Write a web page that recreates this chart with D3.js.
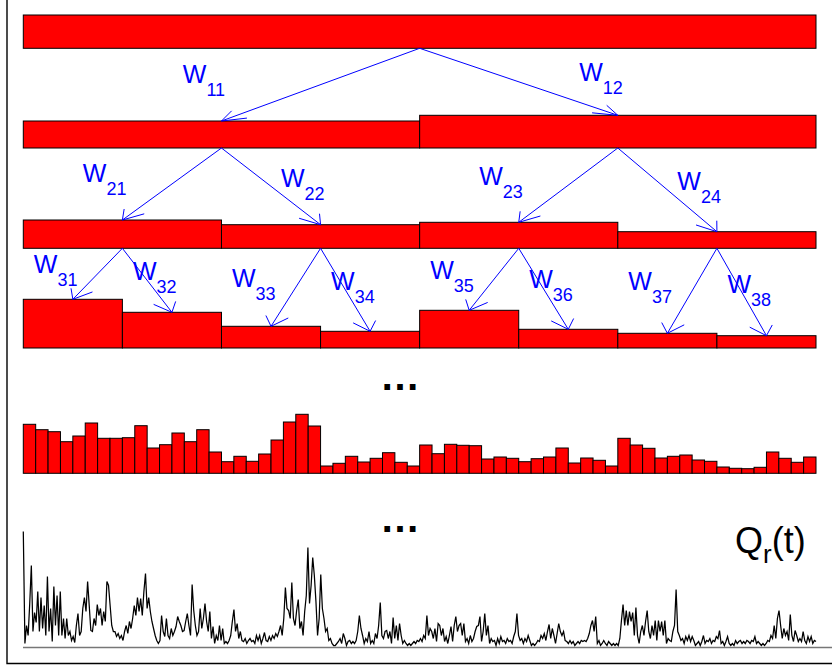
<!DOCTYPE html>
<html>
<head>
<meta charset="utf-8">
<script src="https://cdn.jsdelivr.net/npm/d3@7/dist/d3.min.js"></script>
<style>
  html, body { margin: 0; padding: 0; background: #fff; }
  svg { display: block; }
</style>
</head>
<body>
<svg id="chart" width="832" height="666"></svg>
<script>
// ---------------- DATA ----------------
// Cascade levels: mass density of each dyadic interval (heights, arbitrary units)
const level0 = [33.3];
const level1 = [27, 32.7];
const level2 = [28.3, 23.6, 26, 16.6];
const level3 = [48.7, 35.7, 21.7, 16.7, 37.7, 18.7, 14.7, 12.3];
const level6 = [49, 43.6, 41.6, 31.6, 37.3, 50.3, 35, 35, 35.6, 47.6,
                25.3, 28.6, 40.3, 31.6, 43.6, 21.3, 11.6, 17, 12, 19.3,
                33.3, 51.3, 59, 47.3, 7.3, 10, 17, 11.3, 15, 20.6,
                11, 7.3, 28.3, 19.6, 29, 28, 27.6, 14.3, 16.3, 15,
                11.6, 14.6, 16.3, 25.3, 10.3, 15.3, 13, 7.3, 35, 28.3,
                25, 15.3, 17, 18.3, 13.3, 12, 6.3, 5, 4.6, 6,
                21.3, 15, 11, 16.3];
// Weight labels (subscripts) for each split level
const weights1 = ["11", "12"];
const weights2 = ["21", "22", "23", "24"];
const weights3 = ["31", "32", "33", "34", "35", "36", "37", "38"];
// Final signal Q_r(t), in four consecutive pieces
const sigA = [116, 4, 22, 12, 44, 82, 16, 35, 25, 56, 16, 50, 19, 42, 12, 71, 16, 39, 6, 61, 22,
  52, 12, 56, 12, 29, 9, 29, 12, 16, 7, 11, 5, 22, 34, 12, 16, 39, 50, 36, 66,
  42, 17, 16, 29, 22, 43, 32, 39, 22, 36, 26, 66, 62, 42, 22, 16, 16, 11, 14, 9,
  12, 7, 16, 22, 14, 26, 19, 29, 42, 32, 50, 36, 49, 32, 56, 74, 39, 50, 36, 26,
  19, 12, 7, 4, 7, 32, 16, 11, 29, 12, 9, 19, 12, 16, 21, 31, 26, 22, 16, 17,
  26, 34, 22, 12, 63, 37, 22, 12, 16, 39, 19, 29, 44, 26, 16, 36, 9, 21, 4, 12,
  7, 22, 7, 19, 4];
const sigB = [6, 4, 7, 12, 26, 38, 16, 24, 9, 16, 7, 6, 9, 4, 7, 9, 6, 7, 4, 12,
  7, 12, 4, 9, 15, 7, 6, 11, 7, 12, 9, 14, 11, 16, 22, 12, 29, 60, 39, 37,
  29, 65, 29, 22, 37, 48, 19, 26, 12, 36, 52, 100, 44, 62, 90, 72, 46, 12, 29, 73,
  39, 29, 16, 19, 7, 9, 4, 2, 2, 4, 6, 9, 4, 14, 9, 2, 6, 7, 4, 6,
  4, 7, 16, 32, 19, 12, 4, 9, 6, 16, 4, 7, 4, 14, 9, 22, 45, 12, 9, 16,
  17, 9, 16, 4, 30, 9, 22, 7, 24, 12, 4, 7, 4, 2, 4, 2, 4, 6, 4, 7,
  6, 9, 6, 12, 9, 32, 12, 19];
const sigC = [16, 9, 19, 6, 24, 22, 12, 19, 6, 11, 4, 12, 21, 6, 22, 31, 16, 22, 24, 12,
  24, 6, 9, 4, 12, 6, 9, 16, 21, 22, 31, 6, 16, 34, 12, 22, 4, 9, 6, 7,
  2, 9, 4, 11, 6, 7, 4, 9, 6, 7, 4, 11, 16, 34, 12, 7, 9, 4, 9, 6,
  12, 7, 2, 4, 2, 4, 7, 6, 12, 9, 14, 7, 16, 23, 9, 19, 12, 4, 14, 24,
  16, 12, 16, 7, 6, 4, 7, 4, 6, 2, 4, 6, 4, 7, 6, 7, 6, 9, 14, 22,
  27, 16, 31, 4, 7, 2, 4, 7, 4, 2, 6, 4, 2, 4, 2, 4, 2, 9, 27, 43,
  22, 37];
const sigD = [22, 36, 26, 35, 12, 40, 12, 4, 16, 22, 12, 26, 37, 16, 9, 22, 12, 27, 7, 27,
  16, 26, 12, 27, 4, 9, 7, 6, 16, 22, 58, 16, 12, 7, 9, 4, 11, 7, 12, 6,
  11, 7, 2, 4, 6, 2, 6, 12, 4, 7, 6, 9, 4, 7, 6, 11, 9, 17, 4, 6,
  2, 6, 11, 4, 2, 4, 2, 7, 4, 6, 7, 4, 6, 4, 7, 6, 4, 7, 6, 11,
  4, 6, 4, 2, 4, 2, 4, 7, 6, 12, 9, 22, 9, 29, 37, 22, 9, 19, 12, 16,
  7, 33, 12, 6, 17, 12, 6, 9, 6, 16, 7, 4, 11, 6, 11, 4, 7, 6];
const signal = sigA.concat(sigB, sigC, sigD);

// ---------------- LAYOUT ----------------
const svg = d3.select("#chart");
const RED = "#ff0000", BLUE = "#0000ff";
const FONT = "'Liberation Sans', Arial, Helvetica, sans-serif";

const x = d3.scaleLinear().domain([0, 1]).range([23.3, 816]);
const h = d3.scaleLinear().domain([0, 100]).range([0, 100]);   // bar height scale (px per unit)

const levels = [
  { values: level0, base: 48.3 },
  { values: level1, base: 148 },
  { values: level2, base: 248.3 },
  { values: level3, base: 348 },
  { values: level6, base: 473.3 }
];

// frame (left + bottom edges visible)
svg.append("path")
  .attr("d", "M7,-2 V663.5 H834")
  .attr("fill", "none").attr("stroke", "#000").attr("stroke-width", 1.4);

// bars
levels.forEach(L => {
  const n = L.values.length;
  svg.append("g").selectAll("rect").data(L.values).join("rect")
    .attr("x", (d, i) => x(i / n))
    .attr("width", x(1 / n) - x(0))
    .attr("y", d => L.base - h(d))
    .attr("height", d => h(d))
    .attr("fill", RED)
    .attr("stroke", "#000")
    .attr("stroke-width", 1);
});

// arrows (MATLAB-style open heads, stretched horizontally)
const arrowG = svg.append("g").attr("stroke", BLUE).attr("fill", "none").attr("stroke-width", 1);
function arrow(x1, y1, x2, y2) {
  const k = 2.4, Lh = 11, ang = 26 * Math.PI / 180;
  let bx = (x1 - x2) / k, by = (y1 - y2);
  const nn = Math.hypot(bx, by); bx /= nn; by /= nn;
  const pts = [-ang, ang].map(a => [
    x2 + k * Lh * (bx * Math.cos(a) - by * Math.sin(a)),
    y2 + Lh * (bx * Math.sin(a) + by * Math.cos(a))
  ]);
  arrowG.append("line").attr("x1", x1).attr("y1", y1).attr("x2", x2).attr("y2", y2);
  arrowG.append("polyline").attr("points", [pts[0], [x2, y2], pts[1]].map(p => p.join(",")).join(" "));
}
for (let l = 0; l < 3; l++) {
  const P = levels[l], C = levels[l + 1];
  const np = P.values.length, nc = C.values.length;
  P.values.forEach((v, i) => {
    const px = x((i + 0.5) / np);
    [2 * i, 2 * i + 1].forEach(j => {
      arrow(px, P.base, x((j + 0.5) / nc), C.base - h(C.values[j]));
    });
  });
}

// weight labels
const labelLayout = [
  { names: weights1, level: 1, dx: 159.5, base: [82.7, 81] },
  { names: weights2, level: 2, dx: 59.5, base: [182, 187, 184.5, 190] },
  { names: weights3, level: 3, dx: 10.5, base: [273, 280, 287, 290, 279, 288, 290, 293] }
];
labelLayout.forEach(LL => {
  const n = LL.names.length;
  LL.names.forEach((name, i) => {
    const t = svg.append("text")
      .attr("x", x(i / n) + LL.dx)
      .attr("y", LL.base[i])
      .attr("fill", BLUE)
      .attr("font-family", FONT)
      .attr("font-size", 25)
      .text("W");
    t.append("tspan").attr("dy", 13).attr("font-size", 18).text(name);
  });
});

// ellipses
[390, 532].forEach(yy => {
  svg.append("text").attr("x", 400).attr("y", yy)
    .attr("text-anchor", "middle")
    .attr("font-family", FONT).attr("font-size", 40).attr("font-weight", "bold")
    .attr("fill", "#000").text("\u2026");
});

// signal
const sx = d3.scaleLinear().domain([0, signal.length - 1]).range([23.3, 816]);
const sy = d3.scaleLinear().domain([0, 116]).range([647.5, 531.5]);
svg.append("line")
  .attr("x1", 23).attr("x2", 832).attr("y1", sy(0)).attr("y2", sy(0))
  .attr("stroke", "#777").attr("stroke-width", 1.5);
svg.append("path")
  .datum(signal)
  .attr("d", d3.line().x((d, i) => sx(i)).y(d => sy(d)))
  .attr("fill", "none").attr("stroke", "#000").attr("stroke-width", 1.25)
  .attr("stroke-linejoin", "miter");

// Q_r(t) label
const q = svg.append("text").attr("x", 735).attr("y", 553)
  .attr("font-family", FONT).attr("font-size", 36).attr("fill", "#000").text("Q");
q.append("tspan").attr("dy", 10).attr("font-size", 26).text("r");
q.append("tspan").attr("dy", -10).attr("font-size", 36).text("(t)");
</script>
</body>
</html>
